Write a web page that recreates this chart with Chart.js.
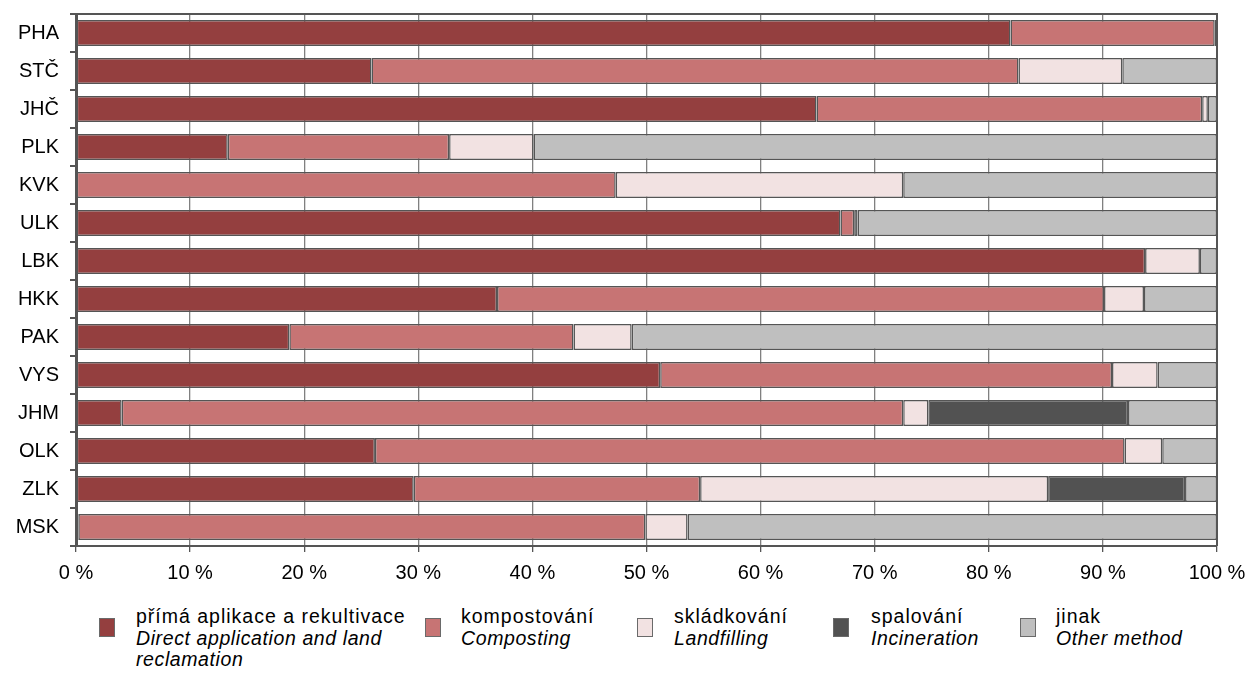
<!DOCTYPE html>
<html>
<head>
<meta charset="utf-8">
<script src="https://cdn.jsdelivr.net/npm/chart.js@4"></script>
<style>
  html, body { margin: 0; padding: 0; background: #fff; }
  body { width: 1246px; height: 675px; position: relative; overflow: hidden; font-family: "Liberation Sans", Arial, sans-serif; }
  #wrap { position: absolute; left: 0; top: 0; width: 1246px; height: 580px; }
  .item { position: absolute; top: 606px; font-size: 19.5px; line-height: 21.5px; letter-spacing: 1px; color: #000; white-space: nowrap; }
  .item i { display: block; letter-spacing: 0.6px; }
  .sw { position: absolute; top: 618px; width: 16px; height: 19px; border: 1.5px solid #6a6a6a; box-sizing: border-box; }
</style>
</head>
<body>
<div id="wrap"><canvas id="wasteChart" width="1246" height="580"></canvas></div>
<div id="legend"></div>
<script>
const regions = ['PHA', 'STČ', 'JHČ', 'PLK', 'KVK', 'ULK', 'LBK', 'HKK', 'PAK', 'VYS', 'JHM', 'OLK', 'ZLK', 'MSK'];

const directApplication = [81.9, 25.9, 64.9, 13.3, 0, 67.0, 93.7, 36.9, 18.7, 51.2, 4.0, 26.2, 29.6, 0.2];
const composting        = [17.9, 56.7, 33.8, 19.4, 47.3, 1.2, 0, 53.2, 24.9, 39.6, 68.5, 65.7, 25.1, 49.7];
const landfilling       = [0, 9.1, 0.5, 7.4, 25.2, 0, 4.8, 3.5, 5.1, 4.0, 2.2, 3.3, 30.5, 3.7];
const incineration      = [0, 0, 0, 0, 0, 0.3, 0, 0, 0, 0, 17.5, 0, 12.0, 0];
const otherMethod       = [0.2, 8.3, 0.8, 59.9, 27.5, 31.5, 1.5, 6.4, 51.3, 5.2, 7.8, 4.8, 2.8, 46.4];

const xTicks = [0, 10, 20, 30, 40, 50, 60, 70, 80, 90, 100];

const series = [
    { cz: 'přímá aplikace a rekultivace', en: 'Direct application and land<br>reclamation', data: directApplication, color: '#943f3f', sw: 99, tx: 136 },
    { cz: 'kompostování', en: 'Composting', data: composting, color: '#c77474', sw: 425, tx: 461 },
    { cz: 'skládkování', en: 'Landfilling', data: landfilling, color: '#f2e2e2', sw: 637, tx: 674 },
    { cz: 'spalování', en: 'Incineration', data: incineration, color: '#525252', sw: 833, tx: 871 },
    { cz: 'jinak', en: 'Other method', data: otherMethod, color: '#bfbfbf', sw: 1020, tx: 1056 },
];

const frame = {
    id: 'frame',
    afterDraw(chart) {
        const { ctx, chartArea: a } = chart;
        ctx.save();
        ctx.strokeStyle = '#555';
        ctx.lineWidth = 2;
        ctx.beginPath();
        ctx.moveTo(a.left, a.top);
        ctx.lineTo(a.right, a.top);
        ctx.lineTo(a.right, a.bottom);
        ctx.stroke();
        ctx.restore();
    }
};

const font = { family: '"Liberation Sans", Arial, sans-serif', size: 20 };

new Chart(document.getElementById('wasteChart'), {
    type: 'bar',
    data: {
        labels: regions,
        datasets: series.map(s => ({
            label: s.cz,
            data: s.data,
            backgroundColor: s.color,
            borderColor: '#555',
            borderWidth: 1.5,
            borderSkipped: false,
            barPercentage: 0.68,
            categoryPercentage: 1,
        })),
    },
    options: {
        indexAxis: 'y',
        responsive: false,
        animation: false,
        layout: { padding: { top: 14, right: 29, left: 0, bottom: 0 } },
        plugins: { legend: { display: false }, tooltip: { enabled: false } },
        scales: {
            x: {
                stacked: true,
                min: 0,
                max: 100,
                afterBuildTicks: (scale) => { scale.ticks = xTicks.map(v => ({ value: v })); },
                afterFit: (scale) => { scale.height = 34; scale.paddingLeft = 0; scale.paddingRight = 0; },
                ticks: { color: '#000', font, padding: 9, maxRotation: 0, callback: v => v + ' %' },
                grid: { color: '#808080', borderDash: [5, 5], tickLength: 6, tickColor: '#555', tickBorderDash: [], lineWidth: 1.3 },
                border: { color: '#555', width: 2, dash: [] },
            },
            y: {
                stacked: true,
                afterFit: (scale) => { scale.width = 76; scale.paddingTop = 0; scale.paddingBottom = 0; },
                ticks: { color: '#000', font, padding: 11 },
                grid: { drawOnChartArea: false, tickLength: 6, color: '#555', lineWidth: 2 },
                border: { color: '#555', width: 3 },
            },
        },
    },
    plugins: [frame],
});

const legend = document.getElementById('legend');
series.forEach(s => {
    const sw = document.createElement('div');
    sw.className = 'sw';
    sw.style.left = s.sw + 'px';
    sw.style.background = s.color;
    legend.appendChild(sw);
    const t = document.createElement('div');
    t.className = 'item';
    t.style.left = s.tx + 'px';
    t.innerHTML = s.cz + '<i>' + s.en + '</i>';
    legend.appendChild(t);
});
</script>
</body>
</html>
